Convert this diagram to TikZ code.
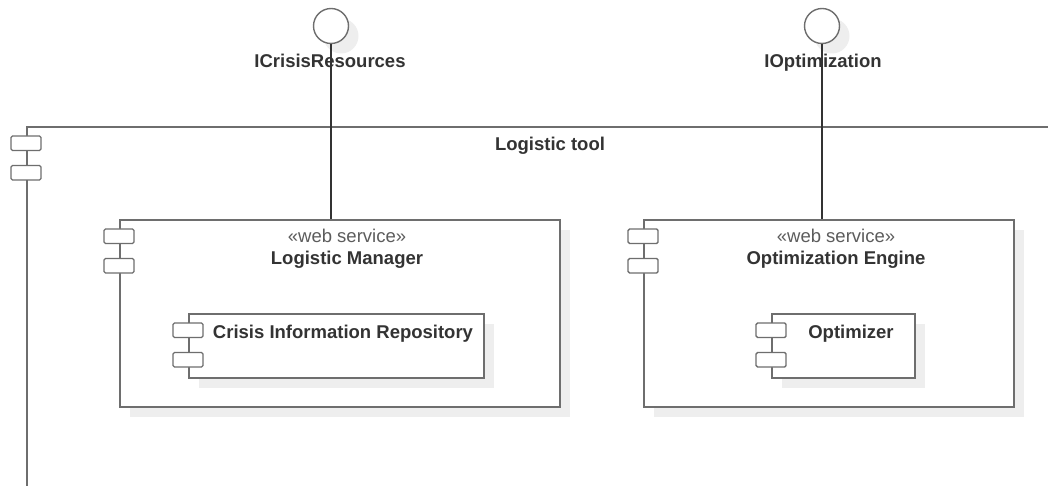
\documentclass[tikz,border=0pt]{standalone}
\usepackage{fontspec}
\setmainfont{Liberation Sans}
\usetikzlibrary{calc}
\usetikzlibrary{positioning}
\usetikzlibrary{shadows}
\definecolor{umlline}{HTML}{6E6E6E}
\definecolor{umltext}{HTML}{333333}
\definecolor{umlshadow}{HTML}{EEEEEE}
\tikzset{
  comp/.style={draw=umlline, line width=1.6pt, fill=white, inner sep=0pt, anchor=north west},
  boxshadow/.style={drop shadow={shadow xshift=10pt, shadow yshift=-10pt, fill=umlshadow, opacity=1}},
  port/.style={draw=umlline, line width=1.4pt, fill=white, rounded corners=1.5pt},
  txt/.style={text=umltext, font=\fontsize{18.5}{22}\selectfont\bfseries, inner sep=0pt, anchor=base},
  stereo/.style={text=umltext!80, font=\fontsize{18.5}{22}\selectfont, inner sep=0pt, anchor=base},
  iface/.style={circle, draw=umlline, line width=1.4pt, fill=white, minimum size=35pt, inner sep=0pt},
  wire/.style={draw=black!80, line width=1.1pt}
}
\newcommand{\compports}[1]{\draw[port] ($(#1.north west)+(-15,10)$) rectangle ++(30,14.5); \draw[port] ($(#1.north west)+(-15,39.5)$) rectangle ++(30,14.5);}

\begin{document}
\begin{tikzpicture}[x=1pt, y=-1pt]
  \useasboundingbox (0,0) rectangle (1048,486);
  \clip (0,0) rectangle (1048,486);
  % logistic tool
  \node[comp, minimum width=1100pt, minimum height=420pt] (tool) at (26,126) {};
  \compports{tool}
  \node[txt] (toollbl) at (550,151) {Logistic tool};
  % logistic manager
  \node[comp, boxshadow, minimum width=440pt, minimum height=187pt] (lm) at (119,219) {};
  \compports{lm}
  \node[stereo] (lmstereo) at (347,242) {«web service»};
  \node[txt] (lmlbl) at (347,264) {Logistic Manager};
  \node[comp, boxshadow, minimum width=295pt, minimum height=64pt] (cir) at (188,313) {};
  \compports{cir}
  \node[txt] (cirlbl) at (343,338) {Crisis Information Repository};
  % optimization engine
  \node[comp, boxshadow, minimum width=370pt, minimum height=187pt] (oe) at (643,219) {};
  \compports{oe}
  \node[stereo] (oestereo) at (836,242) {«web service»};
  \node[txt] (oelbl) at (836,264) {Optimization Engine};
  \node[comp, boxshadow, minimum width=143pt, minimum height=64pt] (opt) at (771,313) {};
  \compports{opt}
  \node[txt] (optlbl) at (851,338) {Optimizer};
  % interfaces
  \node[iface, boxshadow] (icr) at (331,26) {};
  \node[txt] (icrlbl) at (330,68) {ICrisisResources};
  \node[iface, boxshadow] (iopt) at (822,26) {};
  \node[txt] (ioptlbl) at (823,68) {IOptimization};
  \draw[wire] (icr.south) -- (icr.south |- lm.north);
  \draw[wire] (iopt.south) -- (iopt.south |- oe.north);
\end{tikzpicture}
\end{document}
